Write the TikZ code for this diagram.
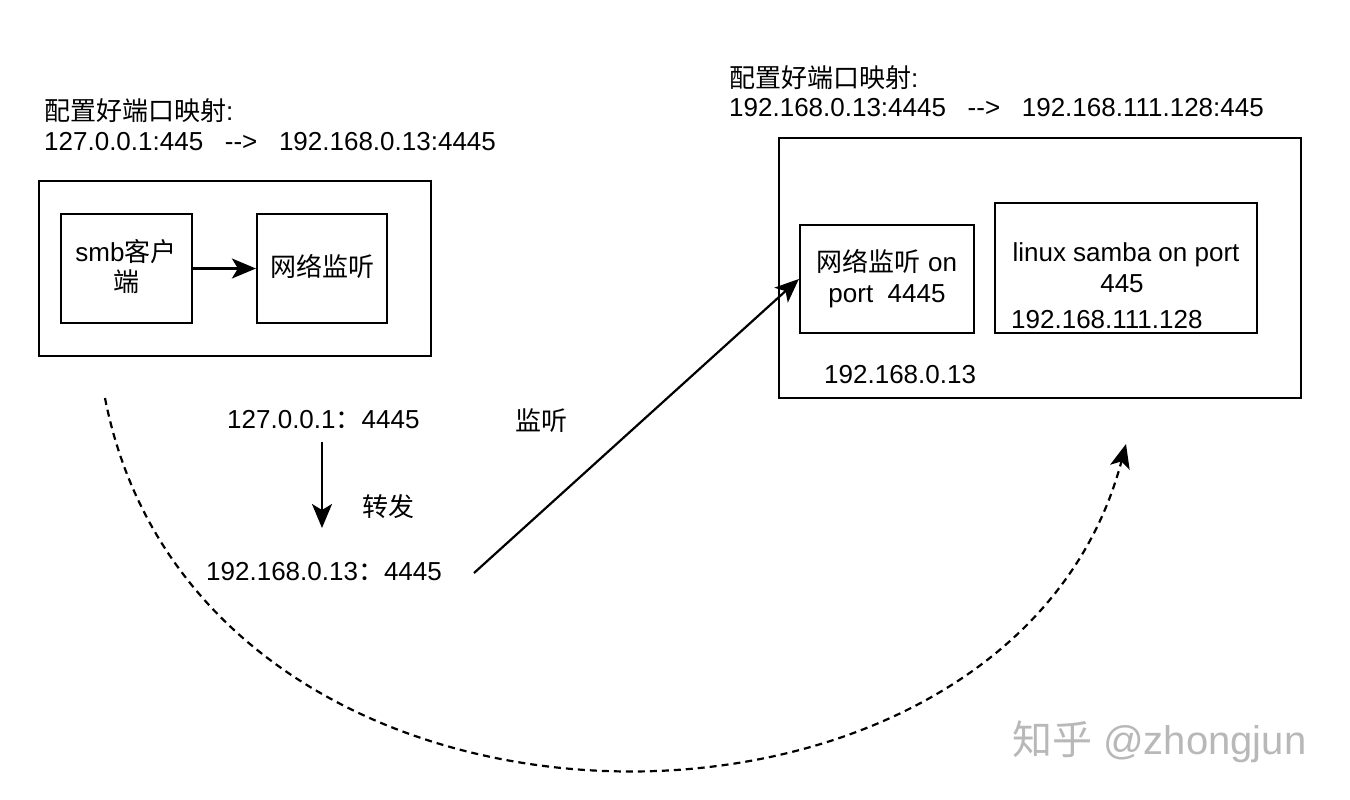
\documentclass[tikz,border=0pt]{standalone}
\usepackage{fontspec}
\setmainfont{Liberation Sans}
\newfontfamily\cjk{Noto Sans CJK SC}
\usetikzlibrary{arrows.meta}
\begin{document}
\begin{tikzpicture}[x=1pt,y=-1pt,
  every node/.style={font=\fontsize{26}{32}\selectfont, inner sep=0pt},
  box/.style={draw, line width=2.2pt},
  conn/.style={line width=2.2pt, -{Stealth[length=24pt,width=20pt,inset=6pt]}},
  dashline/.style={line width=2.2pt, dash pattern=on 7pt off 5pt, -{Stealth[length=24pt,width=20pt,inset=6pt]}},
  wm/.style={text=black!28, font=\fontsize{40}{48}\selectfont}]
\useasboundingbox (0,0) rectangle (1350,800);
\fill[white] (0,0) rectangle (1350,800);

% left side
\node[anchor=base west] (lt1) at (44,120) {{\cjk 配置好端口映射}:};
\node[anchor=base west] (lt2) at (44,150) {127.0.0.1:445\ \ \ -{}-{}>\ \ \ 192.168.0.13:4445};
\node[box, minimum width=392pt, minimum height=175pt] (lhost) at (235,268.5) {};
\node[box, minimum width=131pt, minimum height=109pt] (smb) at (126.5,268.5) {};
\node[box, minimum width=130pt, minimum height=109pt] (lis) at (322,268.5) {};
\node[anchor=base] (smbt1) at (126,261) {smb{\cjk 客户}};
\node[anchor=base] (smbt2) at (126,291) {{\cjk 端}};
\node[anchor=base] (list) at (322,276) {{\cjk 网络监听}};
\draw[conn] (smb.east) -- (lis.west);

% middle
\node[anchor=base west] (a1) at (227,428) {127.0.0.1{\cjk ：}4445};
\node[anchor=base west] (a2) at (206,580) {192.168.0.13{\cjk ：}4445};
\node[anchor=base west] (zf) at (362,516) {{\cjk 转发}};
\node[anchor=base west] (jt) at (515,430) {{\cjk 监听}};
\coordinate (d1) at (322,442);
\coordinate (d2) at (322,528);
\draw[conn] (d1) -- (d2);

% right side
\node[anchor=base west] (rt1) at (729,88) {{\cjk 配置好端口映射}:};
\node[anchor=base west] (rt2) at (729,117) {192.168.0.13:4445\ \ \ -{}-{}>\ \ \ 192.168.111.128:445};
\node[box, minimum width=522pt, minimum height=260pt] (rhost) at (1040,268) {};
\node[box, minimum width=174pt, minimum height=108pt] (pbox) at (887,279) {};
\node[box, minimum width=262pt, minimum height=130pt] (sbox) at (1126,268) {};
\node[anchor=base] (pt1) at (887,271) {{\cjk 网络监听} on};
\node[anchor=base] (pt2) at (887,302) {port\ \ 4445};
\node[anchor=base] (st1) at (1126,261) {linux samba on port};
\node[anchor=base] (st2) at (1122,292) {445};
\node[anchor=base west] (st3) at (1011,328) {192.168.111.128};
\node[anchor=base west] (rip) at (824,383) {192.168.0.13};

\coordinate (s1) at (474,573);
\draw[conn] (s1) -- (pbox.west);

% dashed curve
\coordinate (c1) at (105,398);
\coordinate (c2) at (1126,444);
\draw[dashline] (c1) .. controls (200,885) and (1010,885) .. (c2);

% watermark
\node[wm, anchor=base west] (wmk) at (1012,754) {{\cjk 知乎} @zhongjun};
\end{tikzpicture}
\end{document}
